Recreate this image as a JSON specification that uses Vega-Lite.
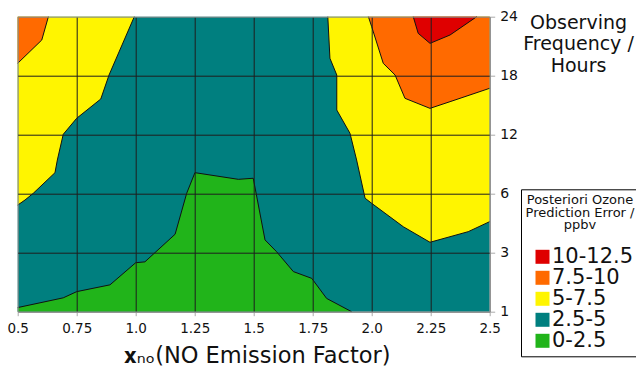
{
  "$schema": "https://vega.github.io/schema/vega-lite/v6.json",
  "width": 472,
  "height": 295,
  "autosize": "none",
  "padding": {"left": 17.7, "top": 16.7, "right": 146.3, "bottom": 61.3},
  "background": "white",
  "config": {
    "font": "DejaVu Sans",
    "view": {"stroke": null}
  },
  "datasets": {
    "polys": [
      {"poly": "a1", "band": "2.5-5", "i": 0, "x": 0.5, "y": 1, "c": 0},
      {"poly": "a1", "band": "2.5-5", "i": 1, "x": 2.5, "y": 1, "c": 0},
      {"poly": "a1", "band": "2.5-5", "i": 2, "x": 2.5, "y": 24, "c": 0},
      {"poly": "a1", "band": "2.5-5", "i": 3, "x": 0.5, "y": 24, "c": 0},

      {"poly": "a2", "band": "5-7.5", "i": 0, "x": 0.5, "y": 24, "c": 0},
      {"poly": "a2", "band": "5-7.5", "i": 1, "x": 0.994, "y": 24, "c": 1},
      {"poly": "a2", "band": "5-7.5", "i": 2, "x": 0.887, "y": 18.07, "c": 1},
      {"poly": "a2", "band": "5-7.5", "i": 3, "x": 0.852, "y": 15.63, "c": 1},
      {"poly": "a2", "band": "5-7.5", "i": 4, "x": 0.75, "y": 13.67, "c": 1},
      {"poly": "a2", "band": "5-7.5", "i": 5, "x": 0.693, "y": 12.04, "c": 1},
      {"poly": "a2", "band": "5-7.5", "i": 6, "x": 0.668, "y": 9.43, "c": 1},
      {"poly": "a2", "band": "5-7.5", "i": 7, "x": 0.658, "y": 8.14, "c": 1},
      {"poly": "a2", "band": "5-7.5", "i": 8, "x": 0.566, "y": 6.04, "c": 1},
      {"poly": "a2", "band": "5-7.5", "i": 9, "x": 0.531, "y": 5.68, "c": 1},
      {"poly": "a2", "band": "5-7.5", "i": 10, "x": 0.5, "y": 5.42, "c": 1},

      {"poly": "a3", "band": "7.5-10", "i": 0, "x": 0.5, "y": 24, "c": 0},
      {"poly": "a3", "band": "7.5-10", "i": 1, "x": 0.63, "y": 24, "c": 1},
      {"poly": "a3", "band": "7.5-10", "i": 2, "x": 0.602, "y": 21.63, "c": 1},
      {"poly": "a3", "band": "7.5-10", "i": 3, "x": 0.5, "y": 19.26, "c": 1},

      {"poly": "a4", "band": "0-2.5", "i": 0, "x": 0.5, "y": 1, "c": 0},
      {"poly": "a4", "band": "0-2.5", "i": 1, "x": 0.5, "y": 1.14, "c": 1},
      {"poly": "a4", "band": "0-2.5", "i": 2, "x": 0.693, "y": 1.47, "c": 1},
      {"poly": "a4", "band": "0-2.5", "i": 3, "x": 0.75, "y": 1.68, "c": 1},
      {"poly": "a4", "band": "0-2.5", "i": 4, "x": 0.891, "y": 1.91, "c": 1},
      {"poly": "a4", "band": "0-2.5", "i": 5, "x": 1.0, "y": 2.66, "c": 1},
      {"poly": "a4", "band": "0-2.5", "i": 6, "x": 1.039, "y": 2.69, "c": 1},
      {"poly": "a4", "band": "0-2.5", "i": 7, "x": 1.167, "y": 3.94, "c": 1},
      {"poly": "a4", "band": "0-2.5", "i": 8, "x": 1.216, "y": 6.04, "c": 1},
      {"poly": "a4", "band": "0-2.5", "i": 9, "x": 1.251, "y": 8.14, "c": 1},
      {"poly": "a4", "band": "0-2.5", "i": 10, "x": 1.435, "y": 7.46, "c": 1},
      {"poly": "a4", "band": "0-2.5", "i": 11, "x": 1.498, "y": 7.57, "c": 1},
      {"poly": "a4", "band": "0-2.5", "i": 12, "x": 1.548, "y": 3.65, "c": 1},
      {"poly": "a4", "band": "0-2.5", "i": 13, "x": 1.597, "y": 3.05, "c": 1},
      {"poly": "a4", "band": "0-2.5", "i": 14, "x": 1.668, "y": 2.36, "c": 1},
      {"poly": "a4", "band": "0-2.5", "i": 15, "x": 1.746, "y": 2.13, "c": 1},
      {"poly": "a4", "band": "0-2.5", "i": 16, "x": 1.809, "y": 1.45, "c": 1},
      {"poly": "a4", "band": "0-2.5", "i": 17, "x": 1.915, "y": 1, "c": 1},

      {"poly": "a5", "band": "5-7.5", "i": 0, "x": 1.814, "y": 24, "c": 1},
      {"poly": "a5", "band": "5-7.5", "i": 1, "x": 1.823, "y": 19.77, "c": 1},
      {"poly": "a5", "band": "5-7.5", "i": 2, "x": 1.852, "y": 18.07, "c": 1},
      {"poly": "a5", "band": "5-7.5", "i": 3, "x": 1.852, "y": 14.51, "c": 1},
      {"poly": "a5", "band": "5-7.5", "i": 4, "x": 1.908, "y": 12.14, "c": 1},
      {"poly": "a5", "band": "5-7.5", "i": 5, "x": 1.936, "y": 9.43, "c": 1},
      {"poly": "a5", "band": "5-7.5", "i": 6, "x": 1.972, "y": 5.77, "c": 1},
      {"poly": "a5", "band": "5-7.5", "i": 7, "x": 2.0, "y": 5.51, "c": 1},
      {"poly": "a5", "band": "5-7.5", "i": 8, "x": 2.134, "y": 4.32, "c": 1},
      {"poly": "a5", "band": "5-7.5", "i": 9, "x": 2.247, "y": 3.53, "c": 1},
      {"poly": "a5", "band": "5-7.5", "i": 10, "x": 2.409, "y": 4.07, "c": 1},
      {"poly": "a5", "band": "5-7.5", "i": 11, "x": 2.5, "y": 4.58, "c": 1},
      {"poly": "a5", "band": "5-7.5", "i": 12, "x": 2.5, "y": 24, "c": 0},

      {"poly": "a6", "band": "7.5-10", "i": 0, "x": 1.986, "y": 24, "c": 1},
      {"poly": "a6", "band": "7.5-10", "i": 1, "x": 2.0, "y": 22.98, "c": 1},
      {"poly": "a6", "band": "7.5-10", "i": 2, "x": 2.049, "y": 19.26, "c": 1},
      {"poly": "a6", "band": "7.5-10", "i": 3, "x": 2.099, "y": 18.07, "c": 1},
      {"poly": "a6", "band": "7.5-10", "i": 4, "x": 2.141, "y": 15.7, "c": 1},
      {"poly": "a6", "band": "7.5-10", "i": 5, "x": 2.247, "y": 14.68, "c": 1},
      {"poly": "a6", "band": "7.5-10", "i": 6, "x": 2.332, "y": 15.36, "c": 1},
      {"poly": "a6", "band": "7.5-10", "i": 7, "x": 2.5, "y": 16.72, "c": 1},
      {"poly": "a6", "band": "7.5-10", "i": 8, "x": 2.5, "y": 24, "c": 0},

      {"poly": "a7", "band": "10-12.5", "i": 0, "x": 2.176, "y": 24, "c": 1},
      {"poly": "a7", "band": "10-12.5", "i": 1, "x": 2.197, "y": 22.31, "c": 1},
      {"poly": "a7", "band": "10-12.5", "i": 2, "x": 2.247, "y": 21.29, "c": 1},
      {"poly": "a7", "band": "10-12.5", "i": 3, "x": 2.332, "y": 22.14, "c": 1},
      {"poly": "a7", "band": "10-12.5", "i": 4, "x": 2.445, "y": 24, "c": 1}
    ]
  },
  "data": {"name": "polys"},
  "encoding": {
    "x": {
      "field": "x",
      "type": "quantitative",
      "scale": {"domain": [0.5, 2.5], "nice": false, "zero": false},
      "axis": {
        "orient": "bottom",
        "zindex": 1,
        "values": [0.5, 0.75, 1.0, 1.25, 1.5, 1.75, 2.0, 2.25, 2.5],
        "labelExpr": "datum.value % 1 == 0 ? format(datum.value, '.1f') : format(datum.value, '.2~f')",
        "labelFontSize": 13.5,
        "labelColor": "#111111",
        "labelPadding": 6,
        "labelFlush": false,
        "tickSize": 4,
        "tickColor": "#aaaaaa",
        "domainColor": "#888888",
        "grid": true,
        "gridColor": {"condition": {"test": "datum.value == 0.5 || datum.value == 2.5", "value": "#888888"}, "value": "#1e1e1e"},
        "gridOpacity": 1,
        "gridWidth": 1,
        "title": "𝐱ₙₒ(NO Emission Factor)",
        "titleFontSize": 22.5,
        "titleFontWeight": "normal",
        "titleColor": "#111111",
        "titleAlign": "center",
        "titleBaseline": "alphabetic",
        "titleX": 239,
        "titleY": 51
      }
    },
    "y": {
      "field": "y",
      "type": "quantitative",
      "scale": {"domain": [1, 3, 6, 12, 18, 24], "range": [295, 236, 177, 118, 59, 0], "nice": false, "zero": false},
      "axis": {
        "orient": "right",
        "zindex": 1,
        "values": [1, 3, 6, 12, 18, 24],
        "labelFontSize": 14,
        "labelColor": "#111111",
        "labelPadding": 5,
        "labelFlush": false,
        "tickSize": 5,
        "tickColor": "#aaaaaa",
        "domainColor": "#888888",
        "grid": true,
        "gridColor": {"condition": {"test": "datum.value == 1 || datum.value == 24", "value": "#888888"}, "value": "#1e1e1e"},
        "gridOpacity": 1,
        "gridWidth": 1,
        "title": ["Observing", "Frequency /", "Hours"],
        "titleFontSize": 19,
        "titleFontWeight": "normal",
        "titleColor": "#111111",
        "titleAngle": 0,
        "titleAlign": "center",
        "titleBaseline": "alphabetic",
        "titleLineHeight": 21.7,
        "titleX": 88.3,
        "titleY": 11.6
      }
    }
  },
  "layer": [
    {
      "mark": {"type": "line", "filled": true, "strokeOpacity": 0, "fillOpacity": 1},
      "encoding": {
        "detail": {"field": "poly", "type": "nominal"},
        "order": {"field": "i", "type": "quantitative"},
        "color": {
          "field": "band",
          "type": "nominal",
          "scale": {
            "domain": ["10-12.5", "7.5-10", "5-7.5", "2.5-5", "0-2.5"],
            "range": ["#df0000", "#ff6a00", "#fff500", "#007f7f", "#21b41a"]
          },
          "legend": {
            "orient": "none",
            "legendX": 503.3,
            "legendY": 172.6,
            "title": ["Posteriori Ozone", "Prediction Error /", "ppbv"],
            "titleFontSize": 13,
            "titleFontWeight": "normal",
            "titleColor": "#111111",
            "titleLineHeight": 12.5,
            "titleAlign": "center",
            "titleAnchor": "middle",
            "titlePadding": 14,
            "labelFontSize": 21,
            "labelColor": "#111111",
            "labelOffset": -1,
            "symbolType": "square",
            "symbolSize": 196,
            "symbolStrokeWidth": 0,
            "symbolOffset": 5,
            "rowPadding": -1.4,
            "padding": 5,
            "strokeColor": "black",
            "fillColor": "white"
          }
        }
      }
    },
    {
      "transform": [{"filter": "datum.c == 1"}],
      "mark": {"type": "line", "stroke": "#111111", "strokeWidth": 1},
      "encoding": {
        "detail": {"field": "poly", "type": "nominal"},
        "order": {"field": "i", "type": "quantitative"}
      }
    }
  ]
}
